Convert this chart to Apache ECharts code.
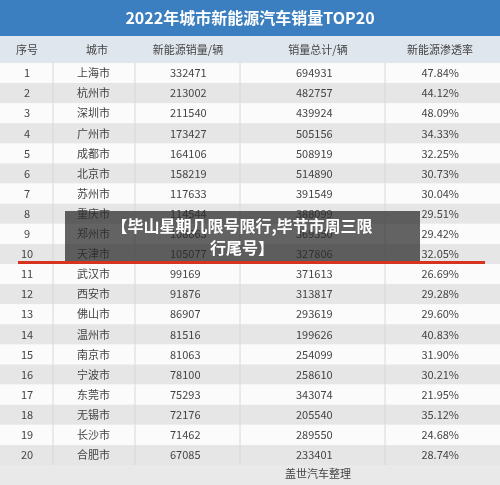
<!DOCTYPE html>
<html><head><meta charset="utf-8">
<script src="https://cdn.jsdelivr.net/npm/echarts@6/dist/echarts.min.js"></script>
<style>html,body{margin:0;padding:0;background:#f4f4f4}#c{width:500px;height:485px}</style>
</head><body><div id="c"></div>
<script>
const ranks = [1,2,3,4,5,6,7,8,9,10,11,12,13,14,15,16,17,18,19,20];
const cities = ['上海市','杭州市','深圳市','广州市','成都市','北京市','苏州市','重庆市','郑州市','天津市','武汉市','西安市','佛山市','温州市','南京市','宁波市','东莞市','无锡市','长沙市','合肥市'];
const nevSales = [332471,213002,211540,173427,164106,158219,117633,114544,108663,105077,99169,91876,86907,81516,81063,78100,75293,72176,71462,67085];
const totalSales = [694931,482757,439924,505156,508919,514890,391549,388099,369350,327806,371613,313817,293619,199626,254099,258610,343074,205540,289550,233401];
const penetration = ['47.84%','44.12%','48.09%','34.33%','32.25%','30.73%','30.04%','29.51%','29.42%','32.05%','26.69%','29.28%','29.60%','40.83%','31.90%','30.21%','21.95%','35.12%','24.68%','28.74%'];
const headers = ['序号','城市','新能源销量/辆','销量总计/辆','新能源渗透率'];

const F = '"Noto Sans CJK SC","Noto Sans",sans-serif';
const chart = echarts.init(document.getElementById('c'));
const txt = (x,y,t,align,color)=>({type:'text',style:{x,y,text:t,fill:color||'#444',font:'11px '+F,align:align||'left',verticalAlign:'middle'}});
chart.setOption({
  animation:false,
  backgroundColor:'#f4f4f4',
  grid:{left:0,right:0,top:63,bottom:20},
  xAxis:{type:'value',min:0,max:500,show:false},
  yAxis:{type:'category',inverse:true,data:ranks.map(String),show:false},
  series:[{
    type:'custom',
    data:ranks.map((r,i)=>[i]),
    renderItem:(params,api)=>{
      const i=api.value(0);
      const c=api.coord([0,i]);
      const h=api.size([0,1])[1];
      const y=c[1];
      return {type:'group',children:[
        {type:'rect',shape:{x:0,y:y-h/2,width:500,height:h},style:{fill:i%2===0?'#fbfbfb':'#e6e6e6'}},
        {type:'line',shape:{x1:53,y1:y-h/2,x2:53,y2:y+h/2},style:{stroke:'#d8d8d8',lineWidth:1}},
        {type:'line',shape:{x1:135,y1:y-h/2,x2:135,y2:y+h/2},style:{stroke:'#d8d8d8',lineWidth:1}},
        {type:'line',shape:{x1:240,y1:y-h/2,x2:240,y2:y+h/2},style:{stroke:'#d8d8d8',lineWidth:1}},
        {type:'line',shape:{x1:385,y1:y-h/2,x2:385,y2:y+h/2},style:{stroke:'#d8d8d8',lineWidth:1}},
        txt(27,y,String(ranks[i]),'center'),
        txt(77,y,cities[i]),
        txt(170,y,String(nevSales[i])),
        txt(296,y,String(totalSales[i])),
        txt(459,y,penetration[i],'right')
      ]};
    }
  }],
  graphic:[
    {type:'rect',shape:{x:0,y:0,width:500,height:36},style:{fill:'#3b7fc0'}},
    {type:'text',style:{x:250,y:18,text:'2022年城市新能源汽车销量TOP20',fill:'#fff',font:'bold 16px '+F,align:'center',verticalAlign:'middle'}},
    {type:'rect',shape:{x:0,y:36,width:500,height:27},style:{fill:'#dfe6ee'}},
    txt(27,50,headers[0],'center'),
    txt(97,50,headers[1],'center'),
    txt(188,50,headers[2],'center'),
    txt(318,50,headers[3],'center'),
    txt(440,50,headers[4],'center'),
    {type:'rect',shape:{x:0,y:465,width:500,height:20},style:{fill:'#e9e9e9'}},
    txt(318,474,'盖世汽车整理','center'),
    {type:'rect',z:100,shape:{x:65,y:211,width:355,height:51},style:{fill:'rgba(40,40,40,0.72)'}},
    {type:'text',z:101,style:{x:242,y:226,text:'【毕山星期几限号限行,毕节市周三限',fill:'#fff',font:'bold 16px '+F,align:'center',verticalAlign:'middle'}},
    {type:'text',z:101,style:{x:242,y:248,text:'行尾号】',fill:'#fff',font:'bold 16px '+F,align:'center',verticalAlign:'middle'}},
    {type:'rect',z:102,shape:{x:18,y:261,width:467,height:3},style:{fill:'#d5341f'}}
  ]
});
</script></body></html>
